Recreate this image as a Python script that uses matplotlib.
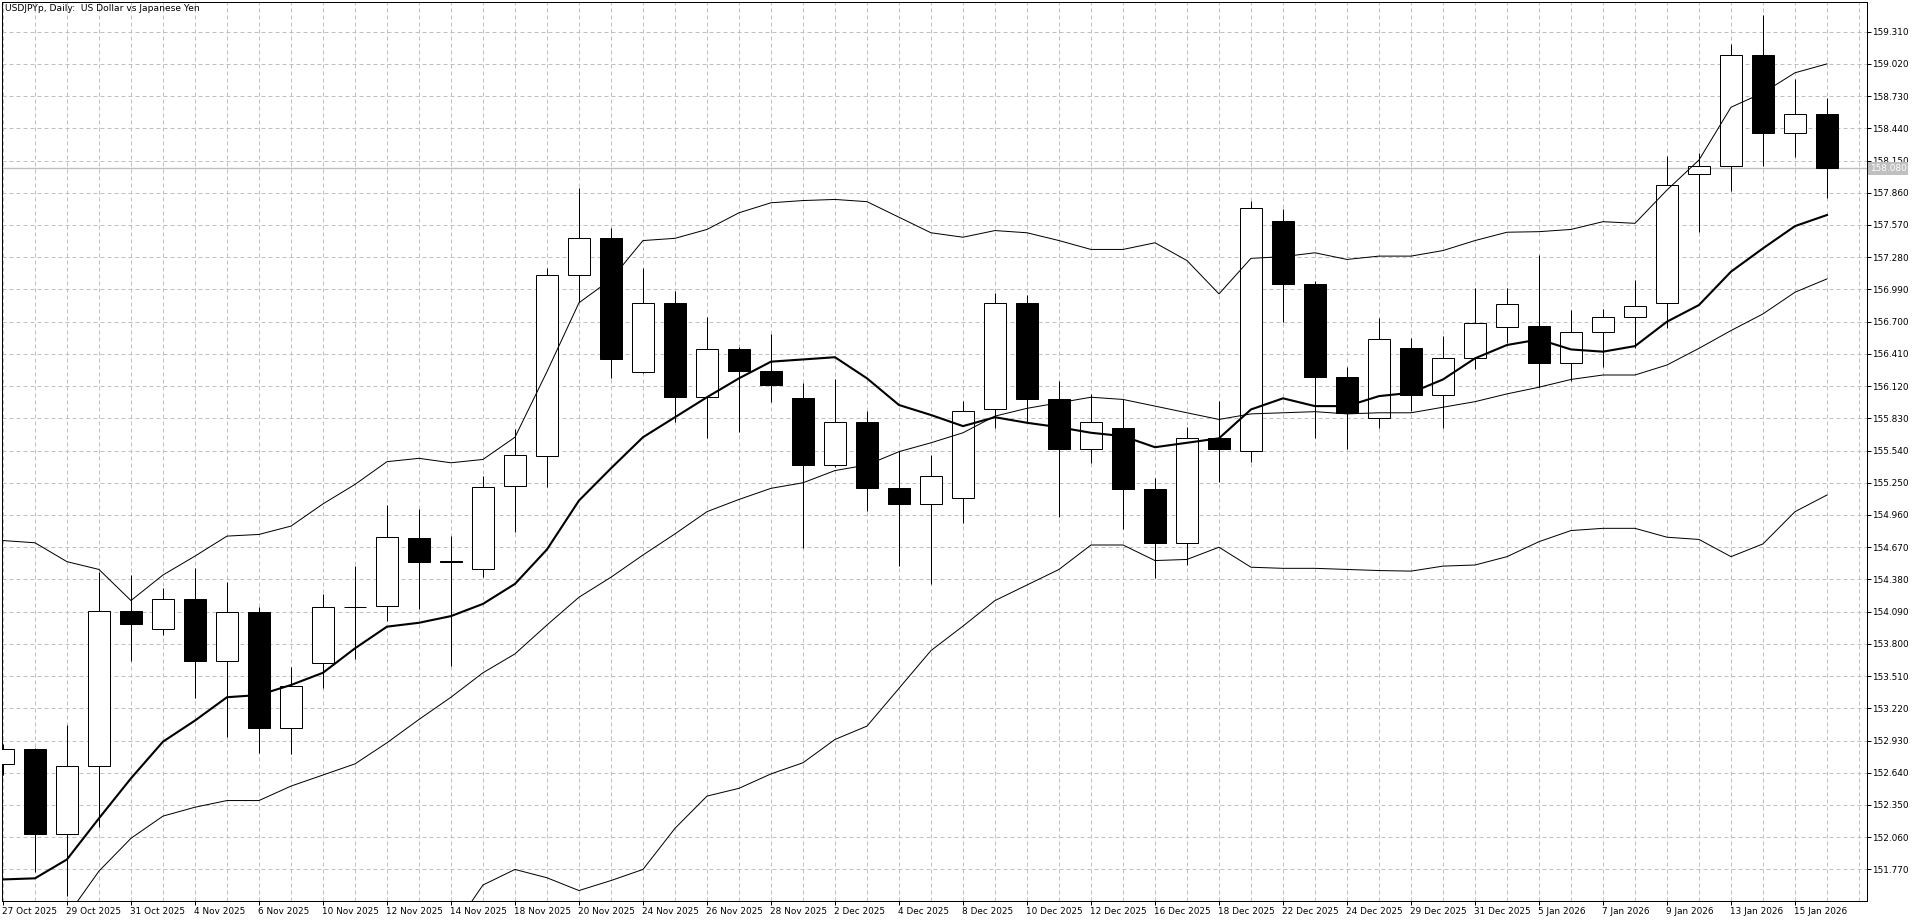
import matplotlib
matplotlib.use("Agg")
import matplotlib.pyplot as plt
import matplotlib.transforms as mtransforms

# Dados (USDJPYp diário)
datas = ["27 Oct 2025", "28 Oct 2025", "29 Oct 2025", "30 Oct 2025", "31 Oct 2025",
         "3 Nov 2025", "4 Nov 2025", "5 Nov 2025", "6 Nov 2025", "7 Nov 2025",
         "10 Nov 2025", "11 Nov 2025", "12 Nov 2025", "13 Nov 2025", "14 Nov 2025",
         "17 Nov 2025", "18 Nov 2025", "19 Nov 2025", "20 Nov 2025", "21 Nov 2025",
         "24 Nov 2025", "25 Nov 2025", "26 Nov 2025", "27 Nov 2025", "28 Nov 2025",
         "1 Dec 2025", "2 Dec 2025", "3 Dec 2025", "4 Dec 2025", "5 Dec 2025",
         "8 Dec 2025", "9 Dec 2025", "10 Dec 2025", "11 Dec 2025", "12 Dec 2025",
         "15 Dec 2025", "16 Dec 2025", "17 Dec 2025", "18 Dec 2025", "19 Dec 2025",
         "22 Dec 2025", "23 Dec 2025", "24 Dec 2025", "26 Dec 2025", "29 Dec 2025",
         "30 Dec 2025", "31 Dec 2025", "2 Jan 2026", "5 Jan 2026", "6 Jan 2026",
         "7 Jan 2026", "8 Jan 2026", "9 Jan 2026", "12 Jan 2026", "13 Jan 2026",
         "14 Jan 2026", "15 Jan 2026", "16 Jan 2026"]

abertura = [152.72, 152.85, 152.09, 152.70, 154.10, 153.93, 154.20, 153.65, 154.09, 153.04,
            153.63, 154.13, 154.14, 154.75, 154.55, 154.47, 155.22, 155.49, 157.12, 157.455,
            156.25, 156.87, 156.02, 156.45, 156.26, 156.01, 155.41, 155.80, 155.20, 155.06,
            155.11, 155.91, 156.865, 156.00, 155.55, 155.74, 155.19, 154.71, 155.65, 155.54,
            157.61, 157.04, 156.20, 155.83, 156.46, 156.04, 156.37, 156.65, 156.66, 156.325,
            156.61, 156.74, 156.865, 158.03, 158.10, 159.10, 158.40, 158.566]
maxima = [152.90, 152.86, 153.07, 154.45, 154.42, 154.30, 154.48, 154.36, 154.13, 153.59,
          154.25, 154.50, 155.05, 155.01, 154.77, 155.31, 155.73, 157.18, 157.90, 157.545,
          157.185, 156.98, 156.74, 156.47, 156.59, 156.15, 156.18, 155.90, 155.54, 155.50,
          155.99, 156.955, 156.94, 156.17, 156.05, 156.00, 155.29, 155.75, 155.99, 157.785,
          157.71, 157.07, 156.29, 156.73, 156.55, 156.57, 157.00, 157.00, 157.30, 156.805,
          156.81, 157.075, 158.19, 158.215, 159.20, 159.46, 158.885, 158.71]
minima = [152.62, 151.75, 151.53, 152.15, 153.65, 153.88, 153.31, 152.96, 152.82, 152.81,
          153.40, 153.66, 154.01, 154.11, 153.60, 154.40, 154.81, 155.21, 156.88, 156.19,
          156.24, 155.80, 155.65, 155.71, 155.98, 154.66, 155.39, 155.00, 154.50, 154.34,
          154.89, 155.74, 155.80, 154.94, 155.43, 154.83, 154.39, 154.51, 155.26, 155.44,
          156.70, 155.65, 155.55, 155.74, 155.90, 155.74, 156.275, 156.505, 156.11, 156.17,
          156.29, 156.46, 156.64, 157.51, 157.88, 158.10, 158.185, 157.816]
fechamento = [152.85, 152.09, 152.70, 154.10, 153.98, 154.20, 153.65, 154.09, 153.04, 153.42,
              154.13, 154.135, 154.76, 154.54, 154.535, 155.21, 155.50, 157.12, 157.455, 156.36,
              156.87, 156.02, 156.45, 156.26, 156.13, 155.41, 155.80, 155.20, 155.06, 155.31,
              155.90, 156.865, 156.00, 155.55, 155.80, 155.19, 154.71, 155.65, 155.55, 157.72,
              157.04, 156.20, 155.88, 156.54, 156.04, 156.37, 156.69, 156.855, 156.325, 156.61,
              156.74, 156.84, 157.93, 158.10, 159.097, 158.40, 158.566, 158.08]

# Média móvel (linha grossa)
media = [151.68, 151.69, 151.86, 152.23, 152.59, 152.92, 153.11, 153.32, 153.34, 153.43,
         153.54, 153.76, 153.955, 153.99, 154.05, 154.16, 154.34, 154.65, 155.09, 155.38,
         155.66, 155.84, 156.02, 156.19, 156.34, 156.36, 156.38, 156.19, 155.95, 155.86,
         155.76, 155.84, 155.79, 155.75, 155.70, 155.67, 155.57, 155.61, 155.65, 155.91,
         156.01, 155.94, 155.94, 156.03, 156.06, 156.18, 156.37, 156.49, 156.54, 156.45,
         156.43, 156.48, 156.70, 156.85, 157.15, 157.36, 157.56, 157.66]

# Bandas de Bollinger
banda_sup = [154.73, 154.71, 154.54, 154.47, 154.19, 154.42, 154.59, 154.77, 154.785, 154.86,
             155.06, 155.235, 155.44, 155.47, 155.43, 155.46, 155.66, 156.25, 156.87, 157.08,
             157.43, 157.45, 157.53, 157.68, 157.77, 157.79, 157.80, 157.78, 157.64, 157.50,
             157.46, 157.52, 157.50, 157.43, 157.35, 157.35, 157.41, 157.25, 156.95, 157.27,
             157.285, 157.32, 157.26, 157.29, 157.29, 157.34, 157.43, 157.505, 157.51, 157.53,
             157.60, 157.585, 157.885, 158.155, 158.63, 158.76, 158.94, 159.02]
banda_meio = [150.80, 151.05, 151.35, 151.755, 152.05, 152.25, 152.33, 152.39, 152.39, 152.52,
              152.62, 152.72, 152.91, 153.12, 153.32, 153.54, 153.71, 153.97, 154.22, 154.40,
              154.60, 154.79, 154.99, 155.10, 155.20, 155.25, 155.36, 155.41, 155.53, 155.61,
              155.70, 155.85, 155.92, 155.97, 156.02, 156.00, 155.94, 155.88, 155.82, 155.87,
              155.88, 155.89, 155.87, 155.88, 155.88, 155.93, 155.98, 156.05, 156.11, 156.18,
              156.22, 156.22, 156.31, 156.46, 156.62, 156.77, 156.965, 157.085]
banda_inf = [146.87, 147.39, 148.16, 149.04, 149.91, 150.08, 150.07, 150.01, 150.00, 150.18,
             150.18, 150.20, 150.38, 150.77, 151.21, 151.63, 151.77, 151.695, 151.58, 151.67,
             151.77, 152.14, 152.43, 152.50, 152.63, 152.73, 152.94, 153.06, 153.40, 153.74,
             153.96, 154.19, 154.33, 154.47, 154.69, 154.69, 154.55, 154.56, 154.67, 154.49,
             154.48, 154.48, 154.47, 154.46, 154.455, 154.50, 154.51, 154.585, 154.72, 154.82,
             154.84, 154.84, 154.76, 154.74, 154.585, 154.70, 154.99, 155.14]

precos_eixo = ["159.310", "159.020", "158.730", "158.440", "158.150", "157.860", "157.570",
               "157.280", "156.990", "156.700", "156.410", "156.120", "155.830", "155.540",
               "155.250", "154.960", "154.670", "154.380", "154.090", "153.800", "153.510",
               "153.220", "152.930", "152.640", "152.350", "152.060", "151.770"]
preco_atual = 158.080

fonte = "DejaVu Sans"
cinza = "#c0c0c0"
px = 0.72  # 1 pixel em pontos (dpi 100)

fig = plt.figure(figsize=(19.2, 9.23), dpi=100)
ax = fig.add_axes([2 / 1920, 22 / 923, 1865 / 1920, 899 / 923])

n = len(datas)
idx = list(range(n))

# Grade
for v in precos_eixo:
    ax.axhline(float(v), color=cinza, lw=px, ls=(0, (4, 3)), zorder=0)
for i in range(n + 1):
    ax.axvline(i, color=cinza, lw=px, ls=(0, (4, 3)), zorder=0)

# Linha do preço atual
ax.axhline(preco_atual, color=cinza, lw=1.4 * px, zorder=1)

# Velas
ax.vlines(idx, minima, maxima, color="black", lw=px, zorder=2)
for i in idx:
    o, c = abertura[i], fechamento[i]
    cor = "white" if c >= o else "black"
    base = min(o, c)
    altura = max(abs(c - o), 0.004)
    ax.bar(i, altura, bottom=base, width=0.68, color=cor, edgecolor="black",
           linewidth=px, zorder=3)

# Indicadores
ax.plot(idx, banda_sup, color="black", lw=px, zorder=4)
ax.plot(idx, banda_meio, color="black", lw=px, zorder=4)
ax.plot(idx, banda_inf, color="black", lw=px, zorder=4)
ax.plot(idx, media, color="black", lw=2.1 * px, zorder=5, solid_joinstyle="round")

ax.set_xlim(-0.03, 58.25)
ax.set_ylim(151.486, 159.577)

# Eixo Y à direita
ax.yaxis.tick_right()
ax.set_yticks([float(v) for v in precos_eixo])
ax.set_yticklabels(precos_eixo, fontsize=6.4, family=fonte)
ax.tick_params(axis="y", direction="out", length=3, width=px, pad=1)

# Eixo X
pos_rot = idx[::2]
ax.set_xticks(pos_rot)
ax.set_xticklabels([datas[i] for i in pos_rot], fontsize=6.4, family=fonte, ha="left")
ax.tick_params(axis="x", direction="out", length=3, width=px, pad=1)
desloc = mtransforms.ScaledTranslation(-1 / 100, 0, fig.dpi_scale_trans)
for rot in ax.get_xticklabels():
    rot.set_transform(rot.get_transform() + desloc)

for lado in ax.spines.values():
    lado.set_linewidth(px)
    lado.set_color("black")

# Rótulo do preço atual
ax.text(1.0016, preco_atual, "158.080", transform=ax.get_yaxis_transform(),
        fontsize=6.4, family=fonte, color="white", va="center", ha="left", zorder=6,
        bbox=dict(facecolor=cinza, edgecolor="none", pad=1.2), clip_on=False)

# Título
fig.text(5 / 1920, 1 - 4 / 923, "USDJPYp, Daily:  US Dollar vs Japanese Yen",
         fontsize=6.6, family=fonte, va="top", ha="left")

fig.savefig("out.png", dpi=100, facecolor="white")
